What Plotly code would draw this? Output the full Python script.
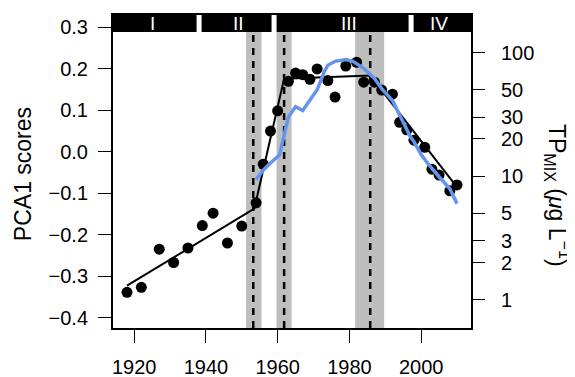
import plotly.graph_objects as go

# PCA1 scores (points)
years = [1918, 1922, 1927, 1931, 1935, 1939, 1942, 1946, 1950, 1954, 1956, 1958, 1960,
         1963, 1965, 1967, 1969, 1971, 1974, 1976, 1979, 1982, 1984, 1987, 1989, 1992,
         1994, 1996, 1998, 2001, 2003, 2005, 2008, 2010]
pca1 = [-0.339, -0.327, -0.235, -0.267, -0.232, -0.178, -0.148, -0.220, -0.179, -0.123,
        -0.030, 0.050, 0.099, 0.170, 0.190, 0.186, 0.175, 0.200, 0.172, 0.132, 0.207,
        0.216, 0.168, 0.168, 0.149, 0.139, 0.071, 0.053, 0.028, 0.011, -0.042, -0.056,
        -0.094, -0.080]

# piecewise (breakpoint) fit
fit_years = [1918, 1953.5, 1961.8, 1985.8, 2010]
fit_vals = [-0.323, -0.137, 0.176, 0.184, -0.085]

# TP_MIX (right log axis)
tp_years = [1954, 1956, 1958, 1960.5, 1963, 1965, 1967, 1969, 1971, 1973, 1974, 1976,
            1979, 1981, 1984, 1987, 1989, 1992, 1994, 1995, 1997, 1998, 2000, 2002,
            2003, 2005, 2008, 2010]
tp_vals = [9.4, 11.2, 12.8, 14.8, 30.2, 36.5, 34.0, 41.0, 50.0, 70.0, 79.0, 85.0,
           88.0, 85.0, 74.5, 61.8, 51.0, 41.0, 31.0, 28.0, 20.8, 19.0, 15.0, 12.5,
           11.5, 9.9, 7.9, 6.0]

# change points and their confidence bands
change_years = [1953.2, 1961.8, 1985.8]
band_lo = [1951.2, 1959.7, 1981.6]
band_hi = [1955.5, 1963.9, 1989.7]

# periods along the top
period_names = ["I", "II", "III", "IV"]
period_start = [1914.1, 1938.8, 1959.7, 1997.9]
period_end = [1937.4, 1958.3, 1996.5, 2013.9]
period_label_x = [1925, 1949, 1980, 2005]

x_ticks = [1920, 1940, 1960, 1980, 2000]
y_ticks = [-0.4, -0.3, -0.2, -0.1, 0.0, 0.1, 0.2, 0.3]
y_tick_text = ["\u22120.4", "\u22120.3", "\u22120.2", "\u22120.1", "0.0", "0.1", "0.2", "0.3"]
tp_ticks = [1, 2, 3, 5, 10, 20, 30, 50, 100]

X_RANGE = [1914.1, 2013.9]
Y_RANGE = [-0.425, 0.330]
Y2_RANGE = [-0.228, 2.304]
BAR_LO = 0.289

FONT = "Liberation Sans, Arial, Helvetica, sans-serif"

fig = go.Figure()

fig.add_trace(go.Scatter(x=tp_years, y=tp_vals, mode="lines", yaxis="y2",
                         line=dict(color="#6495ED", width=3.5), showlegend=False,
                         hoverinfo="skip"))
fig.add_trace(go.Scatter(x=fit_years, y=fit_vals, mode="lines",
                         line=dict(color="black", width=2), showlegend=False))
fig.add_trace(go.Scatter(x=years, y=pca1, mode="markers",
                         marker=dict(color="black", size=11, line=dict(width=0)),
                         showlegend=False))

shapes = []
for lo, hi in zip(band_lo, band_hi):
    shapes.append(dict(type="rect", xref="x", yref="y", x0=lo, x1=hi,
                       y0=Y_RANGE[0], y1=BAR_LO, fillcolor="#BEBEBE",
                       line=dict(width=0), layer="below"))
for cy in change_years:
    shapes.append(dict(type="line", xref="x", yref="y", x0=cy, x1=cy,
                       y0=Y_RANGE[0], y1=BAR_LO,
                       line=dict(color="black", width=2.5, dash="7px,6px"),
                       layer="below"))
for s, e in zip(period_start, period_end):
    shapes.append(dict(type="rect", xref="x", yref="y", x0=s, x1=e,
                       y0=BAR_LO, y1=Y_RANGE[1], fillcolor="black",
                       line=dict(width=0), layer="above"))

annotations = []
for name, lx in zip(period_names, period_label_x):
    annotations.append(dict(x=lx, y=(BAR_LO + Y_RANGE[1]) / 2, xref="x", yref="y",
                            text=name, showarrow=False,
                            font=dict(color="white", size=19, family=FONT),
                            xanchor="center", yanchor="middle"))
annotations.append(dict(x=-0.251, y=0.492, xref="paper", yref="paper",
                        text="PCA1 scores", textangle=-90, showarrow=False,
                        font=dict(size=23, color="black", family=FONT),
                        xanchor="center", yanchor="middle"))
annotations.append(dict(x=1.243, y=0.422, xref="paper", yref="paper",
                        text="TP<sub>MIX</sub> (<i>\u03bc</i>g L<sup>\u22121</sup>)",
                        textangle=90, showarrow=False,
                        font=dict(size=23, color="black", family=FONT),
                        xanchor="center", yanchor="middle"))

# page body has an 8px margin: figure is sized/offset to compensate
fig.update_layout(
    width=567, height=369,
    margin=dict(l=105, r=104, t=7, b=49, autoexpand=False),
    plot_bgcolor="white", paper_bgcolor="white",
    font=dict(family=FONT, size=20, color="black"),
    shapes=shapes, annotations=annotations,
    xaxis=dict(range=X_RANGE, tickvals=x_ticks, ticks="outside", ticklen=13,
               tickwidth=1.3, tickcolor="black", showline=True, linecolor="black",
               linewidth=2, mirror=True, showgrid=False, zeroline=False,
               automargin=False, ticklabelstandoff=7, tickfont=dict(size=20)),
    yaxis=dict(range=Y_RANGE, tickvals=y_ticks, ticktext=y_tick_text, ticks="outside",
               ticklen=13, tickwidth=1.3, tickcolor="black", showline=True,
               linecolor="black", linewidth=2, mirror=True, showgrid=False,
               zeroline=False, automargin=False, ticklabelstandoff=6,
               tickfont=dict(size=20)),
    yaxis2=dict(type="log", range=Y2_RANGE, overlaying="y", side="right",
                tickvals=tp_ticks, ticktext=[str(t) for t in tp_ticks],
                ticks="outside", ticklen=13, tickwidth=1.3, tickcolor="black",
                showline=False, showgrid=False, zeroline=False, automargin=False,
                ticklabelstandoff=12, tickfont=dict(size=20)),
)

fig.write_html("out.html")
